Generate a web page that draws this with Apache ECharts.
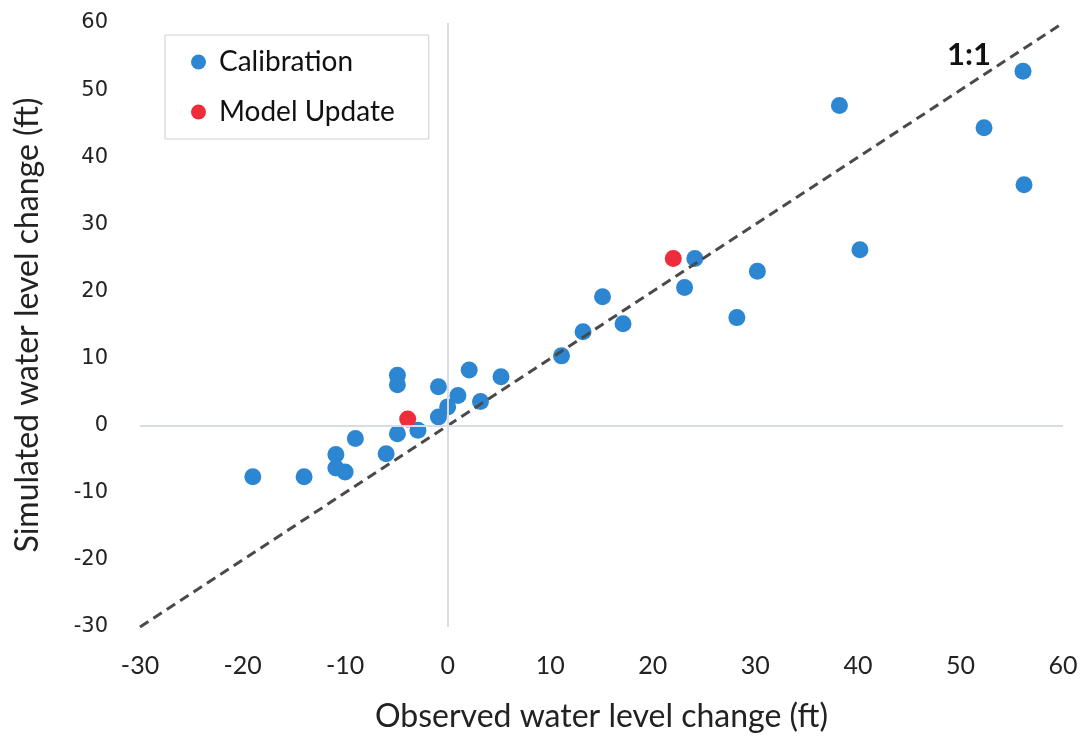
<!DOCTYPE html>
<html>
<head>
<meta charset="utf-8">
<script src="https://cdn.jsdelivr.net/npm/echarts@6/dist/echarts.min.js"></script>
<style>
  html, body { margin: 0; padding: 0; background: #fff; }
  #main { width: 1085px; height: 742px; }
</style>
</head>
<body>
<div id="main"></div>
<script>
// observed vs simulated water level change (ft)
const calibration = [
  [-19.0, -7.6], [-14.0, -7.6], [-10.9, -4.3], [-10.9, -6.3], [-10.0, -6.9],
  [-9.0, -1.9], [-6.0, -4.2], [-4.9, 7.5], [-4.9, 6.1], [-4.9, -1.2],
  [-2.9, -0.7], [-0.9, 5.8], [-0.9, 1.3], [0.0, 2.8], [1.0, 4.5],
  [2.1, 8.3], [3.2, 3.6], [5.2, 7.3], [11.1, 10.4], [13.2, 14.0],
  [15.1, 19.2], [17.1, 15.2], [23.1, 20.6], [24.1, 24.9], [28.2, 16.1],
  [30.2, 23.0], [38.2, 47.7], [40.2, 26.2], [52.3, 44.4], [56.1, 52.8],
  [56.2, 35.9]
];
const modelUpdate = [[22.0, 24.9], [-3.9, 1.0]];
const oneToOne = [[-30, -30], [60, 60]];
const axisMin = -30, axisMax = 60, axisStep = 10;

const chart = echarts.init(document.getElementById('main'));

const option = {
  animation: false,
  grid: { left: 140, right: 22, top: 23, bottom: 115 },
  legend: {
    left: 165, top: 35,
    orient: 'vertical',
    icon: 'circle',
    itemWidth: 15, itemHeight: 15,
    itemGap: 22,
    padding: [13, 34, 13, 26],
    borderColor: '#cfcfcf', borderWidth: 1,
    textStyle: { fontFamily: 'Lato', fontSize: 28, color: '#111', padding: [0, 0, 0, 8] },
    data: ['Calibration', 'Model Update']
  },
  graphic: [{
    type: 'text', right: 94, top: 39,
    style: { text: '1:1', font: 'bold 31px Lato', fill: '#111' }
  }],
  xAxis: {
    type: 'value', min: axisMin, max: axisMax, interval: axisStep,
    name: 'Observed water level change (ft)',
    nameLocation: 'middle', nameGap: 74,
    nameTextStyle: { fontFamily: 'Lato', fontSize: 32, color: '#222' },
    axisLine: { show: false }, axisTick: { show: false }, splitLine: { show: false },
    axisLabel: { margin: 26, fontFamily: 'Lato', fontSize: 25, color: '#222' }
  },
  yAxis: {
    type: 'value', min: axisMin, max: axisMax, interval: axisStep,
    name: 'Simulated water level change (ft)',
    nameLocation: 'middle', nameGap: 96,
    nameTextStyle: { fontFamily: 'Lato', fontSize: 32, color: '#222' },
    axisLine: { show: false }, axisTick: { show: false }, splitLine: { show: false },
    axisLabel: { margin: 32, fontFamily: 'DejaVu Sans', fontSize: 21, color: '#222' }
  },
  series: [
    {
      name: 'zero', type: 'line', data: [], silent: true,
      markLine: {
        silent: true, symbol: 'none', label: { show: false },
        lineStyle: { color: '#d8dde3', width: 2, type: 'solid' },
        data: [{ xAxis: 0 }, { yAxis: 0 }]
      }
    },
    {
      name: '1:1', type: 'line', data: oneToOne, symbol: 'none', silent: true,
      lineStyle: { color: '#4a4a4a', width: 3, type: [10, 6] }
    },
    {
      name: 'Calibration', type: 'scatter', data: calibration,
      symbolSize: 17, itemStyle: { color: '#2c86d2', opacity: 1 }
    },
    {
      name: 'Model Update', type: 'scatter', data: modelUpdate,
      symbolSize: 17, itemStyle: { color: '#ee2c3c', opacity: 1 }
    }
  ]
};

chart.setOption(option);
</script>
</body>
</html>
